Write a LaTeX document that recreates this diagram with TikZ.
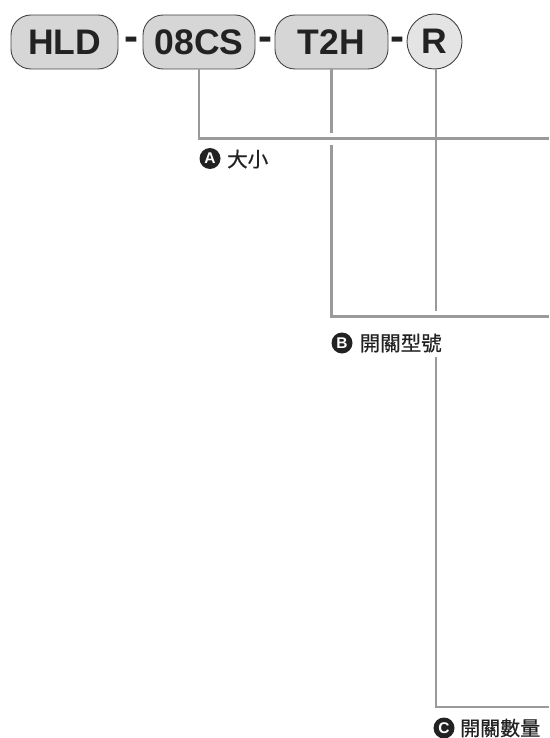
\documentclass[tikz,border=0pt]{standalone}
\usepackage{fontspec}
\setmainfont{Liberation Sans}
\newfontfamily\cjk[FakeBold=0.6]{Noto Sans CJK TC}
\definecolor{linegray}{HTML}{9A9A9A}
\definecolor{boxfill}{HTML}{D6D6D6}
\definecolor{rfill}{HTML}{E4E4E4}
\definecolor{ink}{HTML}{222222}
\begin{document}
\begin{tikzpicture}[x=1pt,y=-1pt,
  codebox/.style={draw=ink!85,line width=0.9pt,fill=boxfill,rounded corners=20pt,
    minimum height=54pt,inner sep=0pt,text=ink,font=\fontsize{35.5}{35.5}\selectfont\bfseries},
  codecirc/.style={draw=ink!85,line width=0.9pt,fill=rfill,circle,minimum size=55pt,
    inner sep=0pt,text=ink,font=\fontsize{35.5}{35.5}\selectfont\bfseries},
  hyph/.style={anchor=base,inner sep=0pt,text=ink,font=\fontsize{42}{42}\selectfont\bfseries},
  conn/.style={draw=linegray,line width=2.5pt},
  badge/.style={circle,fill=ink,minimum size=21pt,inner sep=0pt,text=white,
    font=\fontsize{15.5}{15.5}\selectfont\bfseries},
  lbl/.style={anchor=west,inner sep=0pt,text=ink,font=\cjk\fontsize{20.5}{20.5}\selectfont}]
\useasboundingbox (0,0) rectangle (549,738);
% code boxes
\node[codebox,minimum width=107pt] (hld) at (64.5,42) {HLD};
\node[codebox,minimum width=112pt] (cs) at (199,42) {08CS};
\node[codebox,minimum width=113pt] (t2h) at (331.5,42) {T2H};
\node[codecirc] (r) at (434.5,41.5) {R};
% hyphens
\node[hyph] (h1) at (131.5,50.5) {-};
\node[hyph] (h2) at (265.5,50.5) {-};
\node[hyph] (h3) at (397.5,50.5) {-};
% coordinates
\coordinate (aend) at (549,138.5);
\coordinate (bgap1) at (331.5,133);
\coordinate (bgap2) at (331.5,145);
\coordinate (bend) at (549,316.5);
\coordinate (cstop) at (436,311);
\coordinate (cstart) at (436,357);
\coordinate (cend) at (549,707);
% connectors
\draw[conn] (cs.south) -- (cs.south |- aend) -- (aend);
\draw[conn] (t2h.south) -- (bgap1);
\draw[conn] (bgap2) -- (bgap2 |- bend) -- (bend);
\draw[conn] (r.south -| cstop) -- (cstop);
\draw[conn] (cstart) -- (cstart |- cend) -- (cend);
% labels
\node[badge] (ba) at (210,158.5) {A};
\node[lbl] (ta) at (227,159) {大小};
\node[badge] (bb) at (342,343) {B};
\node[lbl] (tb) at (359.5,343) {開關型號};
\node[badge] (bc) at (444,728) {C};
\node[lbl,font=\cjk\fontsize{20}{20}\selectfont] (tc) at (460,728) {開關數量};
\end{tikzpicture}
\end{document}
